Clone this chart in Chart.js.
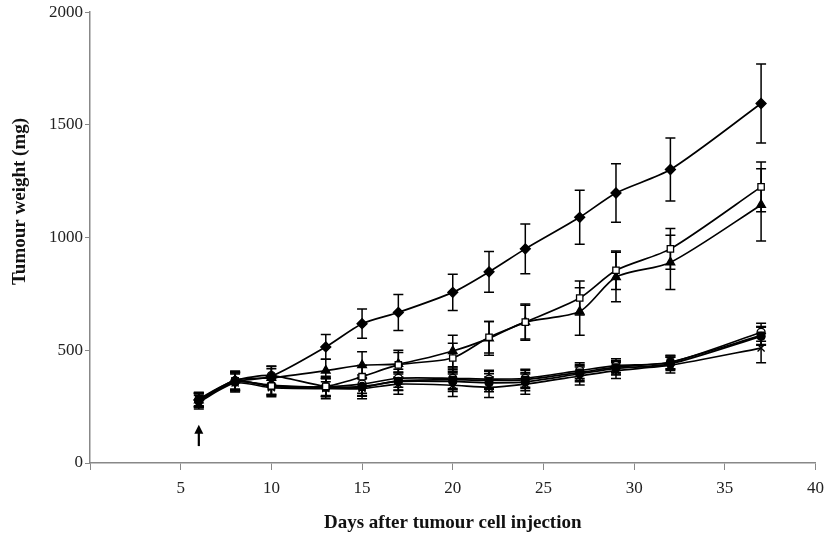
<!DOCTYPE html>
<html>
<head>
<meta charset="utf-8">
<script src="https://cdn.jsdelivr.net/npm/chart.js@4"></script>
<style>
    html, body { margin: 0; padding: 0; background: #fff; }
    #wrap { width: 832px; height: 538px; position: relative; }
</style>
</head>
<body>
<div id="wrap"><canvas id="tumourChart"></canvas></div>
<script>
// days of measurement
var days = [6, 8, 10, 13, 15, 17, 20, 22, 24, 27, 29, 32, 37];

// mean tumour weight (mg) per group
var diamondData = [280, 360, 385, 515, 618, 668, 757, 848, 950, 1090, 1198, 1302, 1595];
var squareData = [280, 362, 342, 340, 383, 435, 466, 558, 625, 732, 855, 950, 1225];
var triangleData = [278, 368, 378, 410, 434, 440, 497, 553, 625, 672, 825, 890, 1145];
var openCircleData = [282, 365, 388, 340, 350, 376, 376, 372, 376, 410, 432, 446, 580];
var filledCircleData = [276, 360, 345, 336, 340, 362, 362, 356, 360, 396, 420, 440, 562];
var filledSquareData = [284, 364, 340, 334, 336, 364, 370, 366, 370, 402, 425, 448, 566];
var crossData = [270, 355, 334, 330, 330, 350, 345, 336, 350, 386, 410, 434, 510];

// standard error per group
var diamondErr = [30, 40, 45, 55, 65, 80, 80, 90, 110, 120, 130, 140, 175];
var squareErr = [30, 40, 40, 45, 50, 55, 65, 70, 75, 75, 85, 90, 110];
var triangleErr = [30, 40, 40, 50, 60, 60, 70, 75, 80, 105, 110, 120, 160];
var openCircleErr = [30, 40, 40, 40, 40, 40, 45, 40, 40, 35, 30, 30, 40];
var filledCircleErr = [30, 40, 40, 40, 40, 40, 45, 40, 40, 35, 30, 30, 40];
var filledSquareErr = [30, 40, 40, 40, 40, 40, 45, 40, 40, 35, 30, 30, 40];
var crossErr = [30, 40, 40, 45, 45, 45, 50, 45, 45, 40, 35, 35, 65];

// axis ticks
var xTicks = [5, 10, 15, 20, 25, 30, 35, 40];
var yTicks = [0, 500, 1000, 1500, 2000];

var fontFamily = '"Liberation Serif", "Times New Roman", serif';

function makeSeries(label, values, errors, style, fill, radius) {
    var pts = [];
    for (var i = 0; i < days.length; i++) {
        pts.push({ x: days[i], y: values[i] });
    }
    return {
        label: label,
        data: pts,
        errors: errors,
        borderColor: '#000',
        borderWidth: 1.7,
        pointStyle: style,
        pointRadius: radius,
        pointBackgroundColor: fill,
        pointBorderColor: '#000',
        pointBorderWidth: 1.3,
        tension: 0.25,
        fill: false
    };
}

// error bars, arrow and y title, all placed through the chart scales
var errorBarPlugin = {
    id: 'errorBars',
    beforeDatasetsDraw: function (chart) {
        var ctx = chart.ctx;
        var xs = chart.scales.x;
        var ys = chart.scales.y;
        ctx.save();
        ctx.strokeStyle = '#000';
        ctx.lineWidth = 1.5;
        chart.data.datasets.forEach(function (ds) {
            for (var i = 0; i < ds.data.length; i++) {
                var px = xs.getPixelForValue(ds.data[i].x);
                var top = ys.getPixelForValue(ds.data[i].y + ds.errors[i]);
                var bot = ys.getPixelForValue(ds.data[i].y - ds.errors[i]);
                ctx.beginPath();
                ctx.moveTo(px, top);
                ctx.lineTo(px, bot);
                ctx.moveTo(px - 5, top);
                ctx.lineTo(px + 5, top);
                ctx.moveTo(px - 5, bot);
                ctx.lineTo(px + 5, bot);
                ctx.stroke();
            }
        });
        ctx.restore();
    },
    afterDraw: function (chart) {
        var ctx = chart.ctx;
        var xs = chart.scales.x;
        var ys = chart.scales.y;
        var ax = xs.getPixelForValue(6);
        var aTop = ys.getPixelForValue(170);
        var aBot = ys.getPixelForValue(75);
        ctx.save();
        ctx.strokeStyle = '#000';
        ctx.fillStyle = '#000';
        ctx.lineWidth = 2.2;
        ctx.beginPath();
        ctx.moveTo(ax, aBot);
        ctx.lineTo(ax, aTop + 5);
        ctx.stroke();
        ctx.beginPath();
        ctx.moveTo(ax, aTop);
        ctx.lineTo(ax - 4.5, aTop + 9);
        ctx.lineTo(ax + 4.5, aTop + 9);
        ctx.closePath();
        ctx.fill();

        // y axis title sits above the middle of the axis in the original
        ctx.translate(20, ys.getPixelForValue(1160));
        ctx.rotate(-Math.PI / 2);
        ctx.font = 'bold 19px ' + fontFamily;
        ctx.fillStyle = '#111';
        ctx.textAlign = 'center';
        ctx.textBaseline = 'middle';
        ctx.fillText('Tumour weight (mg)', 0, 0);
        ctx.restore();
    }
};

new Chart(document.getElementById('tumourChart').getContext('2d'), {
    type: 'line',
    data: {
        datasets: [
            makeSeries('diamond', diamondData, diamondErr, 'rectRot', '#000', 5),
            makeSeries('square', squareData, squareErr, 'rect', '#fff', 4.5),
            makeSeries('triangle', triangleData, triangleErr, 'triangle', '#000', 5),
            makeSeries('filled square', filledSquareData, filledSquareErr, 'rect', '#000', 4.5),
            makeSeries('filled circle', filledCircleData, filledCircleErr, 'circle', '#000', 4),
            makeSeries('cross', crossData, crossErr, 'crossRot', '#000', 5),
            makeSeries('open circle', openCircleData, openCircleErr, 'circle', '#fff', 4)
        ]
    },
    options: {
        responsive: true,
        maintainAspectRatio: false,
        animation: false,
        layout: { padding: { top: 12, right: 12, left: 0, bottom: 0 } },
        plugins: {
            legend: { display: false },
            tooltip: { enabled: false }
        },
        scales: {
            x: {
                type: 'linear',
                min: 0,
                max: 40,
                afterBuildTicks: function (scale) {
                    scale.ticks = [{ value: 0 }].concat(xTicks.map(function (v) { return { value: v }; }));
                },
                afterFit: function (scale) { scale.height = 75; },
                grid: { drawOnChartArea: false, color: '#888', tickLength: 7, tickWidth: 1 },
                border: { color: '#888', width: 1.5 },
                ticks: {
                    color: '#222',
                    padding: 8,
                    font: { family: fontFamily, size: 17 },
                    callback: function (value) { return value === 0 ? '' : String(value); }
                },
                title: {
                    display: true,
                    text: 'Days after tumour cell injection',
                    color: '#111',
                    font: { family: fontFamily, size: 19, weight: 'bold' },
                    padding: { top: 14 }
                }
            },
            y: {
                min: 0,
                max: 2000,
                afterBuildTicks: function (scale) {
                    scale.ticks = yTicks.map(function (v) { return { value: v }; });
                },
                afterFit: function (scale) { scale.width = 90; },
                grid: { drawOnChartArea: false, color: '#888', tickLength: 5, tickWidth: 1 },
                border: { color: '#888', width: 1.5 },
                ticks: {
                    color: '#222',
                    padding: 2,
                    font: { family: fontFamily, size: 17 },
                    callback: function (value) { return String(value); }
                }
            }
        }
    },
    plugins: [errorBarPlugin]
});
</script>
</body>
</html>
